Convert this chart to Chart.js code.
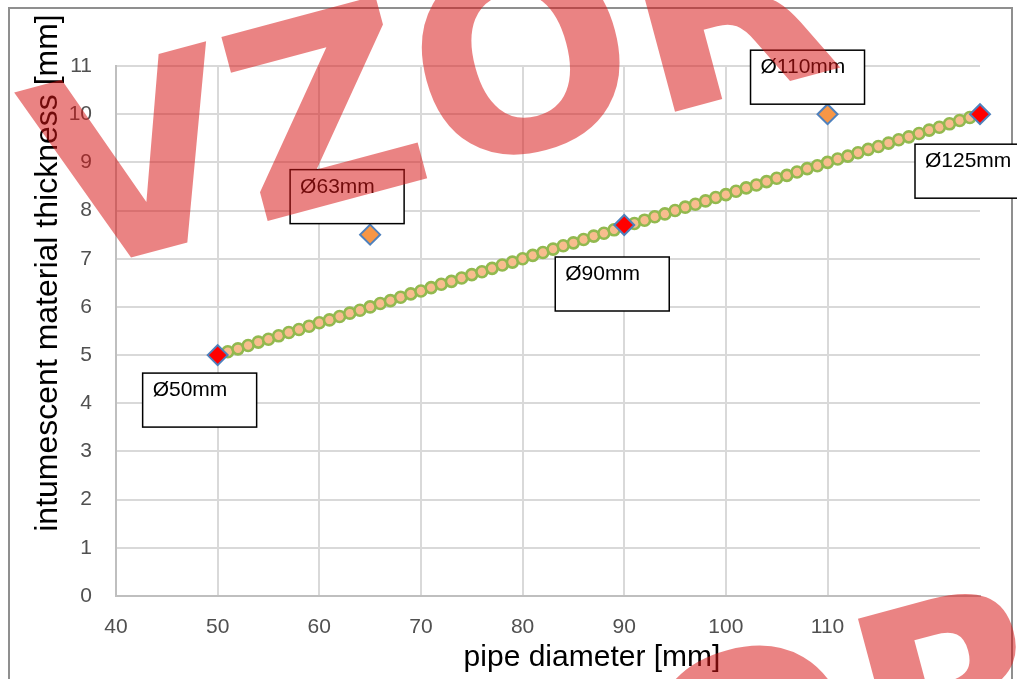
<!DOCTYPE html>
<html>
<head>
<meta charset="utf-8">
<script src="https://cdn.jsdelivr.net/npm/chart.js@4.4.0/dist/chart.umd.min.js"></script>
<style>
  html, body { margin: 0; padding: 0; background: #fff; }
  canvas { display: block; }
</style>
</head>
<body>
<canvas id="myChart" width="1017" height="679"></canvas>
<script>
// trend line (small circles), one point per mm
const lineX = [50, 51, 52, 53, 54, 55, 56, 57, 58, 59, 60, 61, 62, 63, 64, 65, 66, 67, 68, 69,
  70, 71, 72, 73, 74, 75, 76, 77, 78, 79, 80, 81, 82, 83, 84, 85, 86, 87, 88, 89,
  90, 91, 92, 93, 94, 95, 96, 97, 98, 99, 100, 101, 102, 103, 104, 105, 106, 107, 108, 109,
  110, 111, 112, 113, 114, 115, 116, 117, 118, 119, 120, 121, 122, 123, 124, 125];
const lineY = [5.00, 5.07, 5.13, 5.20, 5.27, 5.33, 5.40, 5.47, 5.53, 5.60, 5.67, 5.73, 5.80, 5.87, 5.93, 6.00, 6.07, 6.13, 6.20, 6.27,
  6.33, 6.40, 6.47, 6.53, 6.60, 6.67, 6.73, 6.80, 6.87, 6.93, 7.00, 7.07, 7.13, 7.20, 7.27, 7.33, 7.40, 7.47, 7.53, 7.60,
  7.67, 7.73, 7.80, 7.87, 7.93, 8.00, 8.07, 8.13, 8.20, 8.27, 8.33, 8.40, 8.47, 8.53, 8.60, 8.67, 8.73, 8.80, 8.87, 8.93,
  9.00, 9.07, 9.13, 9.20, 9.27, 9.33, 9.40, 9.47, 9.53, 9.60, 9.67, 9.73, 9.80, 9.87, 9.93, 10.00];

// measured points
const redX = [50, 90, 125];
const redY = [5, 7.7, 10];
const orangeX = [65, 110];
const orangeY = [7.5, 10];

// point labels
const labelText = ['Ø50mm', 'Ø63mm', 'Ø90mm', 'Ø110mm', 'Ø125mm'];
const labelX = [50, 65, 90, 110, 125];
const labelY = [5, 7.5, 7.7, 10, 10];

const xTitle = 'pipe diameter [mm]';
const yTitle = 'intumescent material thickness [mm]';
const watermark = 'VZOR';

const toPoints = (xs, ys) => xs.map((x, i) => ({ x: x, y: ys[i] }));

// box offsets from the labelled point, in px
const boxOffsets = [[-75, 18], [-80, -65], [-69, 32], [-77, -64], [-65, 30]];

const framePlugin = {
  id: 'frame',
  beforeDraw(chart) {
    const ctx = chart.ctx;
    ctx.save();
    ctx.fillStyle = '#ffffff';
    ctx.fillRect(0, 0, chart.width, chart.height);
    ctx.strokeStyle = '#8f8f8f';
    ctx.lineWidth = 2;
    ctx.strokeRect(9, 8, 1003, 700);
    ctx.restore();
  }
};

const labelPlugin = {
  id: 'boxLabels',
  afterDatasetsDraw(chart) {
    const ctx = chart.ctx;
    const xs = chart.scales.x, ys = chart.scales.y;
    ctx.save();
    ctx.font = '21px "Liberation Sans", Arial, sans-serif';
    ctx.textBaseline = 'top';
    labelText.forEach((t, i) => {
      const px = xs.getPixelForValue(labelX[i]) + boxOffsets[i][0];
      const py = ys.getPixelForValue(labelY[i]) + boxOffsets[i][1];
      ctx.fillStyle = '#ffffff';
      ctx.fillRect(px, py, 114, 54);
      ctx.strokeStyle = '#000000';
      ctx.lineWidth = 1.5;
      ctx.strokeRect(px, py, 114, 54);
      ctx.fillStyle = '#000000';
      ctx.fillText(t, px + 10, py + 7);
    });
    ctx.restore();
  }
};

const titlePlugin = {
  id: 'titles',
  afterDraw(chart) {
    const ctx = chart.ctx;
    ctx.save();
    ctx.fillStyle = '#000000';
    ctx.textAlign = 'center';
    ctx.textBaseline = 'alphabetic';
    ctx.font = '30px "Liberation Sans", Arial, sans-serif';
    ctx.fillText(xTitle, 592, 666);
    ctx.translate(57, 273);
    ctx.rotate(-Math.PI / 2);
    ctx.font = '32px "Liberation Sans", Arial, sans-serif';
    ctx.fillText(yTitle, 0, 0);
    ctx.restore();

    // watermark over everything
    ctx.save();
    ctx.fillStyle = 'rgba(215, 20, 20, 0.53)';
    ctx.font = 'bold 260px "DejaVu Sans"';
    ctx.textAlign = 'left';
    ctx.textBaseline = 'alphabetic';
    [[62, 276], [294, 966]].forEach(([x, y]) => {
      ctx.save();
      ctx.translate(x, y);
      ctx.rotate(-15 * Math.PI / 180);
      ctx.fillText(watermark, 0, 0);
      ctx.restore();
    });
    ctx.restore();
  }
};

const ctx = document.getElementById('myChart');
const chart = new Chart(ctx, {
  type: 'scatter',
  data: {
    datasets: [
      {
        label: 'red',
        data: toPoints(redX, redY),
        pointStyle: 'rectRot',
        pointRadius: 10,
        pointHoverRadius: 10,
        backgroundColor: '#ff0000',
        borderColor: '#4f81bd',
        borderWidth: 2,
        clip: false
      },
      {
        label: 'orange',
        data: toPoints(orangeX, orangeY),
        pointStyle: 'rectRot',
        pointRadius: 10,
        pointHoverRadius: 10,
        backgroundColor: '#f79646',
        borderColor: '#4f81bd',
        borderWidth: 2,
        clip: false
      },
      {
        label: 'line',
        data: toPoints(lineX, lineY),
        pointRadius: 5.5,
        pointHoverRadius: 5.5,
        backgroundColor: '#f8bd8e',
        borderColor: '#92b94f',
        borderWidth: 2.6,
        clip: false
      }
    ]
  },
  options: {
    responsive: false,
    animation: false,
    layout: { padding: { left: 0, top: 66, right: 37, bottom: 0 } },
    plugins: { legend: { display: false }, tooltip: { enabled: false } },
    scales: {
      x: {
        type: 'linear',
        min: 40,
        max: 125,
        afterBuildTicks: (scale) => {
          scale.ticks = scale.ticks.filter(t => t.value % 10 === 0);
        },
        afterFit: (scale) => { scale.height = 83; },
        ticks: {
          stepSize: 10,
          color: '#505050',
          padding: 19,
          font: { family: '"Liberation Sans", Arial, sans-serif', size: 21 }
        },
        grid: { color: '#d9d9d9', lineWidth: 2, drawTicks: false },
        border: { color: '#bfbfbf', width: 2 }
      },
      y: {
        min: 0,
        max: 11,
        afterFit: (scale) => { scale.width = 116; },
        ticks: {
          stepSize: 1,
          color: '#505050',
          padding: 24,
          font: { family: '"Liberation Sans", Arial, sans-serif', size: 21 }
        },
        grid: { color: '#d9d9d9', lineWidth: 2, drawTicks: false },
        border: { color: '#bfbfbf', width: 2 }
      }
    }
  },
  plugins: [framePlugin, labelPlugin, titlePlugin]
});
</script>
</body>
</html>
